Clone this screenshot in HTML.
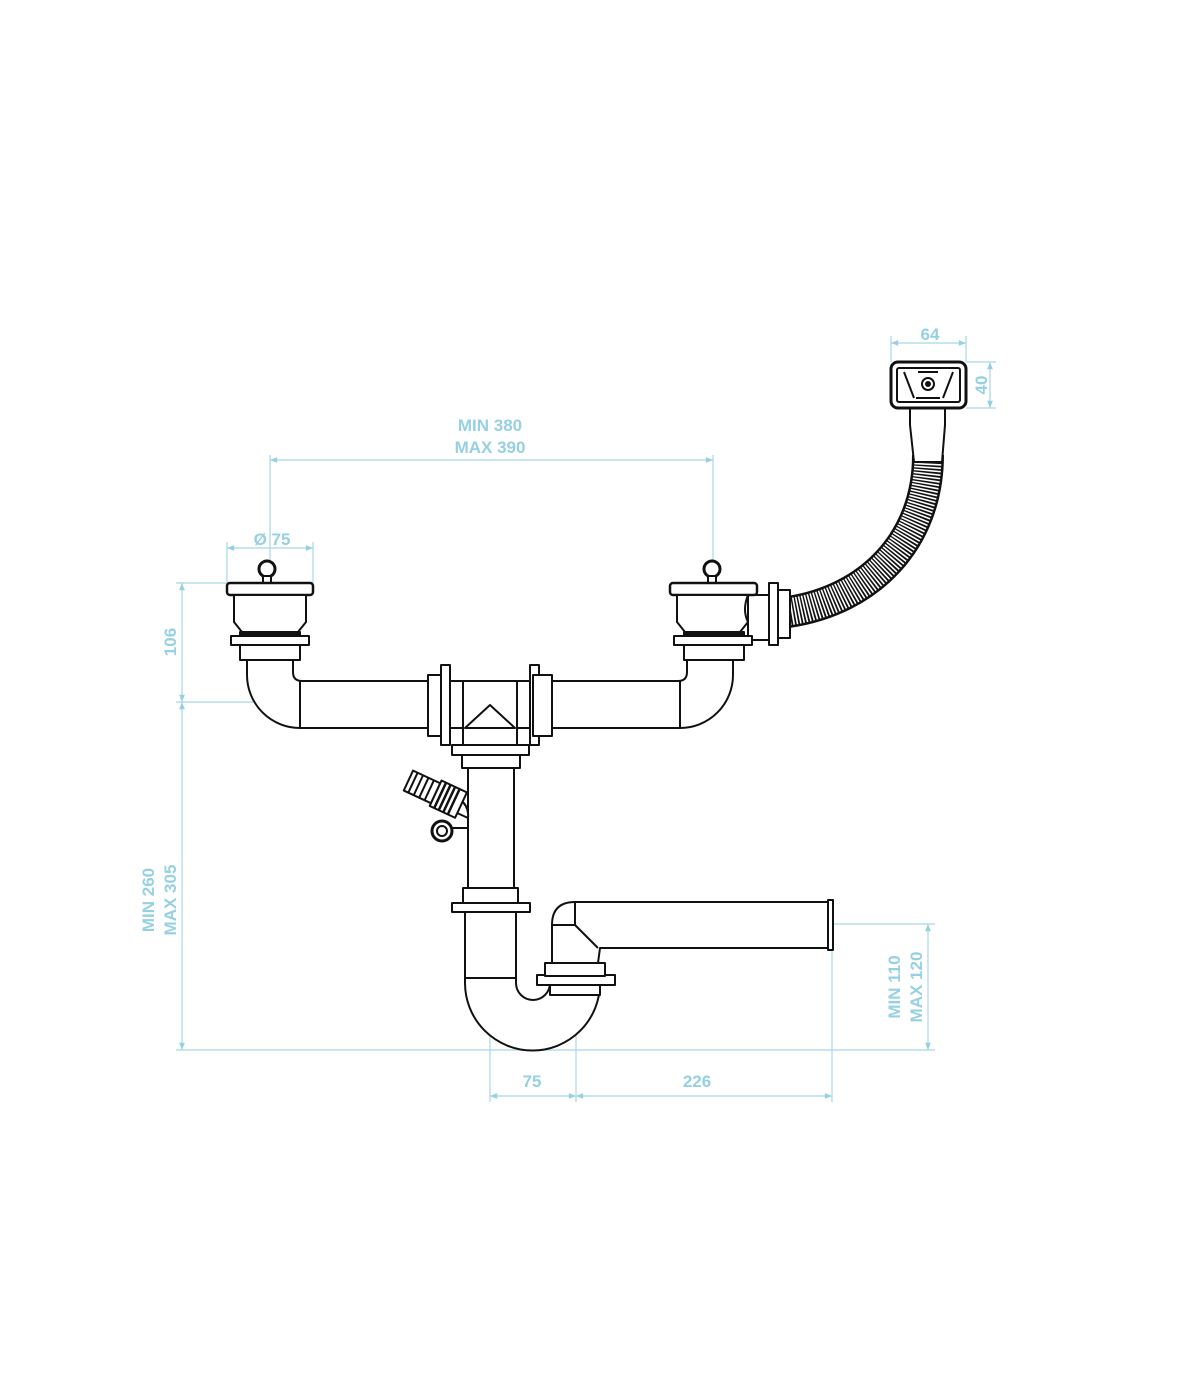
<!DOCTYPE html>
<html><head><meta charset="utf-8"><style>
html,body{margin:0;padding:0;background:#fff}
svg{display:block}
text{font-family:"Liberation Sans",sans-serif;font-weight:bold;font-size:17px;fill:#96d0e3}
</style></head><body>
<svg width="1192" height="1377" viewBox="0 0 1192 1377" xmlns="http://www.w3.org/2000/svg">
<defs>
<marker id="a" viewBox="0 0 10 10" refX="10" refY="5" markerWidth="8" markerHeight="6" orient="auto-start-reverse"><path d="M0,1 L10,5 L0,9 z" fill="#96d0e3"/></marker>
</defs>
<g stroke="#a8d8e8" stroke-width="1.2" fill="none">
<line x1="891" y1="343" x2="966" y2="343" marker-start="url(#a)" marker-end="url(#a)"/>
<line x1="891" y1="336" x2="891" y2="362"/><line x1="966" y1="336" x2="966" y2="362"/>
<line x1="990" y1="362" x2="990" y2="408" marker-start="url(#a)" marker-end="url(#a)"/>
<line x1="966" y1="362" x2="996" y2="362"/><line x1="966" y1="408" x2="996" y2="408"/>
<line x1="270" y1="460" x2="713" y2="460" marker-start="url(#a)" marker-end="url(#a)"/>
<line x1="270" y1="455" x2="270" y2="580"/><line x1="713" y1="455" x2="713" y2="560"/>
<line x1="227" y1="548" x2="313" y2="548" marker-start="url(#a)" marker-end="url(#a)"/>
<line x1="227" y1="542" x2="227" y2="583"/><line x1="313" y1="542" x2="313" y2="583"/>
<line x1="182" y1="583" x2="182" y2="702" marker-start="url(#a)" marker-end="url(#a)"/>
<line x1="182" y1="702" x2="182" y2="1050" marker-start="url(#a)" marker-end="url(#a)"/>
<line x1="176" y1="583" x2="227" y2="583"/><line x1="176" y1="702" x2="465" y2="702"/>
<line x1="176" y1="1050" x2="935" y2="1050"/>
<line x1="928" y1="924" x2="928" y2="1050" marker-start="url(#a)" marker-end="url(#a)"/>
<line x1="797" y1="924" x2="935" y2="924"/>
<line x1="490" y1="1096" x2="576" y2="1096" marker-start="url(#a)" marker-end="url(#a)"/>
<line x1="576" y1="1096" x2="832" y2="1096" marker-start="url(#a)" marker-end="url(#a)"/>
<line x1="490" y1="905" x2="490" y2="1102"/><line x1="576" y1="960" x2="576" y2="1102"/><line x1="832" y1="905" x2="832" y2="1102"/>
<line x1="468" y1="858" x2="514" y2="858" marker-start="url(#a)" marker-end="url(#a)"/>
</g>
<text x="930" y="340" text-anchor="middle">64</text>
<text transform="translate(987,385) rotate(-90)" text-anchor="middle">40</text>
<text x="490" y="431" text-anchor="middle">MIN 380</text>
<text x="490" y="453" text-anchor="middle">MAX 390</text>
<text x="272" y="545" text-anchor="middle">Ø 75</text>
<text transform="translate(176,642) rotate(-90)" text-anchor="middle">106</text>
<text transform="translate(154,900) rotate(-90)" text-anchor="middle">MIN 260</text>
<text transform="translate(176,900) rotate(-90)" text-anchor="middle">MAX 305</text>
<text transform="translate(900,987) rotate(-90)" text-anchor="middle">MIN 110</text>
<text transform="translate(922,987) rotate(-90)" text-anchor="middle">MAX 120</text>
<text x="491" y="855" text-anchor="middle">Ø40</text>
<text x="532" y="1087" text-anchor="middle">75</text>
<text x="697" y="1087" text-anchor="middle">226</text>

<g stroke="#111" stroke-width="2" fill="#fff" stroke-linejoin="round">
<path d="M788 612 C 870 600, 928 540, 928 455" stroke="#111" stroke-width="32" fill="none"/>
<path d="M788 612 C 870 600, 928 540, 928 455" stroke="#fff" stroke-width="27" stroke-dasharray="1.6 1.6" fill="none"/>
<path d="M910 408 L945 408 L945 425 L942 462 L914 462 L910 425 Z"/>
<rect x="891" y="362" width="75" height="46" rx="7" stroke-width="3"/>
<rect x="897" y="368" width="63" height="34" rx="2"/>
<path d="M904 372 L914 398 M953 372 L943 398 M918 372 L938 372 M916 398 L940 398" fill="none"/>
<circle cx="928" cy="384" r="6"/><circle cx="928" cy="384" r="2" fill="#111"/>
<circle cx="267" cy="569" r="8" stroke-width="3"/>
<rect x="263" y="576" width="8" height="7"/>
<rect x="227" y="583" width="86" height="12" rx="3" stroke-width="2.5"/>
<path d="M234 595 L306 595 L306 622 L298 632 L242 632 L234 622 Z"/>
<rect x="240" y="632" width="60" height="4" fill="#111"/>
<rect x="231" y="636" width="78" height="9"/>
<rect x="240" y="645" width="60" height="15"/>
<path d="M247 660 L293 660 L293 672 Q293 681 302 681 L430 681 L430 728 L300 728 A53 53 0 0 1 247 675 Z"/>
<line x1="300" y1="681" x2="300" y2="728"/>
<rect x="428" y="675" width="19" height="61"/>
<rect x="441" y="665" width="9" height="80"/>
<rect x="450" y="681" width="13" height="47"/>
<rect x="463" y="681" width="54" height="64"/>
<path d="M465 728 L490 705 L515 728 Z"/>
<line x1="465" y1="728" x2="515" y2="728"/>
<rect x="517" y="681" width="13" height="47"/>
<rect x="530" y="665" width="9" height="80"/>
<rect x="533" y="675" width="19" height="61"/>
<path d="M552 681 L678 681 Q687 681 687 672 L687 660 L733 660 L733 675 A53 53 0 0 1 680 728 L552 728 Z"/>
<line x1="680" y1="681" x2="680" y2="728"/>
<circle cx="712" cy="569" r="8" stroke-width="3"/>
<rect x="708" y="576" width="8" height="7"/>
<path d="M748 595 L770 595 L770 640 L748 640 Z"/>
<rect x="670" y="583" width="87" height="12" rx="3" stroke-width="2.5"/>
<path d="M677 595 L748 595 Q742 610 748 622 L740 632 L685 632 L677 622 Z"/>
<rect x="684" y="632" width="60" height="4" fill="#111"/>
<rect x="674" y="636" width="78" height="9"/>
<rect x="684" y="645" width="60" height="15"/>
<rect x="769" y="583" width="9" height="62"/>
<rect x="778" y="590" width="12" height="48"/>
<rect x="452" y="745" width="77" height="10"/>
<rect x="462" y="755" width="58" height="13"/>
<rect x="468" y="768" width="46" height="120"/>
<path d="M446 793 Q470 800 468 818 L455 812 Z"/>
<g transform="rotate(25 437 795)">
<rect x="405" y="783" width="30" height="22" fill="#fff"/>
<path d="M410 783 v22 M416 783 v22 M422 783 v22 M428 783 v22" fill="none"/>
<rect x="435" y="780" width="28" height="28"/>
<path d="M440 780 v28 M445 780 v28 M450 780 v28 M455 780 v28" fill="none" stroke-width="2.5"/>
</g>
<circle cx="442" cy="831" r="10" stroke-width="3"/>
<circle cx="442" cy="831" r="5"/>
<line x1="452" y1="828" x2="468" y2="828"/>
<rect x="463" y="888" width="55" height="16"/>
<rect x="452" y="903" width="78" height="9"/>
<path d="M465 912 L516 912 L516 983 A17 17 0 0 0 550 983 L550 990 L600 990 L600 983 A67 67 0 0 1 465 983 Z"/>
<line x1="465" y1="978" x2="516" y2="978"/>
<rect x="550" y="985" width="50" height="10"/>
<rect x="537" y="975" width="78" height="10"/>
<rect x="545" y="963" width="60" height="13"/>
<path d="M552 963 L552 925 Q552 902 575 902 L828 902 L828 948 L600 948 L598 963 Z"/>
<path d="M552 925 L575 925 L598 948 M575 902 L575 925" fill="none"/>
<rect x="828" y="900" width="5" height="50"/>
</g>
</svg>
</body></html>
